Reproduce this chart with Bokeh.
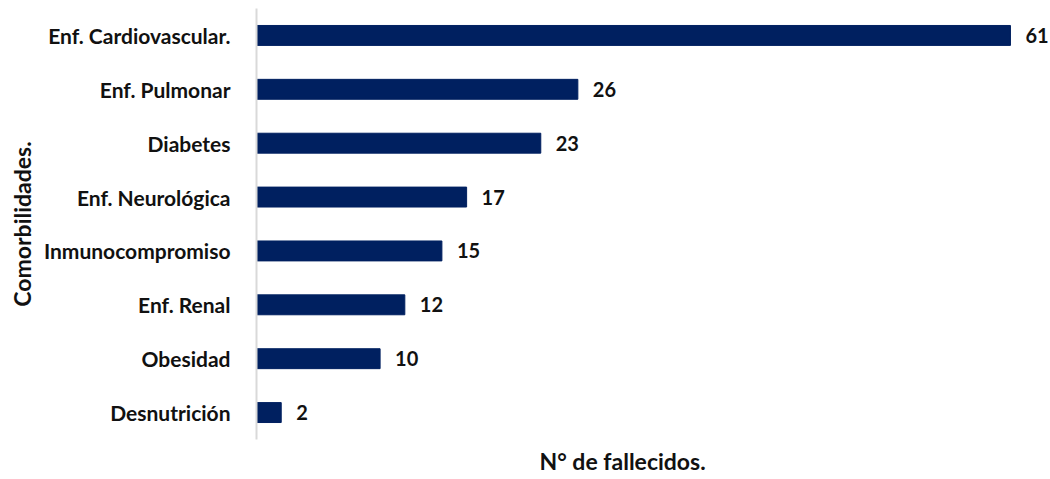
from bokeh.plotting import figure
from bokeh.models import ColumnDataSource, FactorRange, Range1d, LabelSet, Title
from bokeh.core.properties import value
from bokeh.embed import file_html
from bokeh.resources import INLINE

categories = ["Enf. Cardiovascular.", "Enf. Pulmonar", "Diabetes", "Enf. Neurológica",
              "Inmunocompromiso", "Enf. Renal", "Obesidad", "Desnutrición"]
values = [61, 26, 23, 17, 15, 12, 10, 2]
x_title = "N° de fallecidos."
y_title = "Comorbilidades."

FONT = "Lato"
BAR = "#002060"
TXT = "#111111"

src = ColumnDataSource(dict(cat=categories, val=values, lbl=[str(v) for v in values]))

p = figure(width=1050, height=479, output_backend="svg", toolbar_location=None,
           y_range=FactorRange(factors=list(reversed(categories)), range_padding=0),
           x_range=Range1d(0, 64.24),
           min_border_left=256, min_border_right=0, min_border_top=8, min_border_bottom=39)

p.hbar(y="cat", right="val", height=0.37, left=0, source=src, color=BAR)

labels = LabelSet(x="val", y="cat", text="lbl", source=src, x_offset=15,
                  text_baseline="middle", text_align="left",
                  text_font=value(FONT), text_font_style="bold", text_font_size="20px",
                  text_color=TXT)
p.add_layout(labels)

p.xaxis.visible = False
p.xgrid.visible = False
p.ygrid.visible = False
p.outline_line_color = None

ax = p.yaxis[0]
ax.axis_line_color = "#D9D9D9"
ax.axis_line_width = 2
ax.major_tick_line_color = None
ax.minor_tick_line_color = None
ax.major_label_standoff = 20
ax.major_label_text_font = FONT
ax.major_label_text_font_style = "bold"
ax.major_label_text_font_size = "21px"
ax.major_label_text_color = TXT
ax.axis_label = y_title
ax.axis_label_text_font = FONT
ax.axis_label_text_font_style = "bold"
ax.axis_label_text_font_size = "23px"
ax.axis_label_text_color = TXT
ax.axis_label_standoff = 5

p.add_layout(Title(text=x_title, align="left", offset=283, standoff=10,
                   text_font=FONT, text_font_style="bold", text_font_size="23px",
                   text_color=TXT), "below")

open("out.html", "w").write(file_html(p, INLINE))
